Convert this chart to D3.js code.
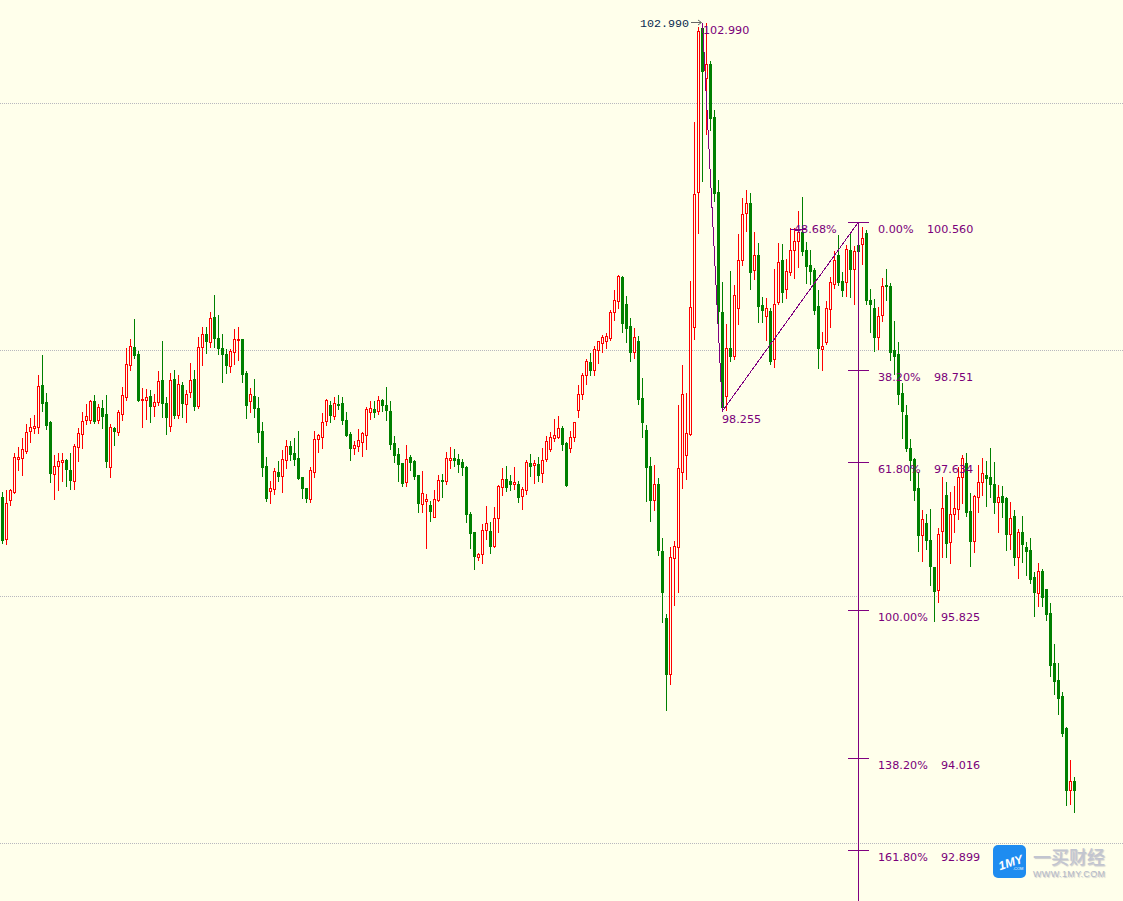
<!DOCTYPE html>
<html><head><meta charset="utf-8">
<script src="https://cdn.jsdelivr.net/npm/d3@7/dist/d3.min.js"></script>
<style>html,body{margin:0;padding:0;background:#FFFFEB;overflow:hidden}svg{display:block}</style>
</head><body><svg id="c" width="1123" height="901"></svg>
<script>
const highs=[
97.27,97.29,97.30,97.74,97.82,97.92,98.10,98.17,98.20,98.69,
98.94,98.47,98.13,97.72,97.74,97.74,97.67,97.74,97.85,98.05,
98.24,98.34,98.39,98.45,98.34,98.39,98.45,98.10,98.06,98.27,
98.55,99.02,99.13,99.38,98.99,98.53,98.52,98.51,98.46,98.74,
99.11,98.43,98.72,98.75,98.69,98.61,98.51,98.84,98.75,99.16,
99.28,99.28,99.46,99.67,99.43,99.19,99.01,99.01,99.25,99.28,
99.13,98.74,98.53,98.64,98.43,98.12,97.69,97.40,97.56,97.64,
97.78,97.90,97.89,97.92,98.01,97.45,97.31,97.57,98.01,97.97,
98.23,98.40,98.38,98.43,98.45,98.43,98.24,98.00,97.89,98.03,
98.00,98.30,98.38,98.38,98.44,98.40,98.55,98.38,97.95,97.80,
97.62,97.84,97.72,97.66,97.47,97.52,97.24,97.16,97.29,97.47,
97.49,97.75,97.82,97.79,97.73,97.67,97.58,97.02,96.78,96.52,
96.88,97.09,96.90,97.08,97.35,97.56,97.58,97.47,97.57,97.40,
97.33,97.66,97.73,97.66,97.69,97.80,97.95,98.00,98.16,98.19,
98.07,97.88,98.01,98.12,98.57,98.72,98.89,98.96,99.05,99.11,
99.18,99.21,99.49,99.73,99.91,99.90,99.66,99.39,99.27,99.17,
98.66,98.08,97.69,97.60,97.44,96.70,95.78,96.59,96.67,98.33,
98.82,98.47,99.84,101.78,102.94,102.99,102.99,102.52,101.93,101.07,
99.83,99.32,99.96,99.79,100.41,100.85,100.95,100.91,100.44,100.30,
99.65,99.63,99.51,99.99,100.30,100.29,100.11,100.49,100.49,100.69,
100.86,100.32,100.22,100.00,99.73,99.22,99.60,99.89,100.21,100.40,
99.95,100.28,100.44,100.27,100.34,100.50,100.46,99.74,99.62,99.52,
99.88,99.99,99.82,99.35,99.10,98.60,98.33,97.91,97.68,97.51,
97.05,97.00,97.06,96.35,96.83,97.45,97.39,97.27,97.34,97.57,
97.72,97.74,97.25,97.23,97.60,97.68,97.64,97.80,97.63,97.35,
97.34,97.20,97.14,97.05,96.81,96.97,96.66,96.70,96.29,96.40,
96.33,96.08,95.91,95.41,95.18,94.83,94.40,94.00,93.79];
const bodyTops=[
97.20,97.13,97.29,97.69,97.69,97.79,98.00,98.06,98.07,98.56,
98.57,98.36,98.12,97.58,97.64,97.66,97.66,97.53,97.83,97.99,
98.13,98.19,98.38,98.38,98.30,98.29,98.22,98.06,98.05,98.24,
98.45,98.83,99.05,99.03,98.95,98.40,98.43,98.44,98.36,98.62,
98.63,98.35,98.63,98.64,98.58,98.57,98.46,98.63,98.64,99.03,
99.19,99.19,99.39,99.40,99.14,99.02,98.95,98.99,99.13,99.13,
99.13,98.72,98.46,98.44,98.29,98.01,97.58,97.31,97.52,97.51,
97.67,97.83,97.83,97.74,97.68,97.45,97.31,97.53,97.91,97.96,
98.12,98.39,98.33,98.35,98.34,98.35,98.14,97.97,97.84,97.90,
97.99,98.28,98.29,98.28,98.39,98.39,98.33,98.25,97.86,97.73,
97.62,97.67,97.69,97.64,97.47,97.25,97.18,97.11,97.18,97.41,
97.41,97.68,97.68,97.68,97.67,97.63,97.57,97.00,96.78,96.51,
96.80,96.89,96.79,96.95,97.34,97.42,97.42,97.40,97.39,97.36,
97.30,97.63,97.62,97.62,97.61,97.66,97.89,97.94,97.96,98.05,
98.05,97.86,97.94,98.12,98.46,98.69,98.86,98.85,99.01,99.11,
99.16,99.17,99.46,99.61,99.90,99.89,99.56,99.29,99.16,99.11,
98.41,98.02,97.58,97.36,97.36,96.55,95.73,96.47,96.61,97.56,
98.46,97.99,99.52,100.90,102.89,102.93,102.49,102.49,101.84,100.93,
99.46,99.02,99.02,99.67,100.10,100.66,100.79,100.79,100.16,100.16,
99.55,99.51,99.47,99.56,100.07,100.10,99.96,100.22,100.33,100.44,
100.44,100.22,100.04,99.97,99.53,99.05,99.51,99.83,100.10,100.16,
99.84,100.23,100.22,100.21,100.28,100.37,100.43,99.61,99.51,99.41,
99.78,99.79,99.78,99.00,98.95,98.47,98.20,97.80,97.67,97.31,
96.94,96.89,96.68,96.35,96.75,97.07,97.23,97.00,97.07,97.45,
97.68,97.62,97.03,97.22,97.39,97.50,97.47,97.45,97.36,97.20,
97.22,97.19,96.95,96.97,96.78,96.78,96.59,96.56,96.23,96.30,
96.30,96.08,95.79,95.18,94.97,94.78,94.39,93.74,93.74];
const bodyBottoms=[
96.68,96.69,97.17,97.27,97.67,97.68,97.77,98.01,98.05,98.06,
98.35,98.08,97.50,97.49,97.58,97.63,97.55,97.41,97.40,97.82,
97.97,98.14,98.14,98.13,98.14,98.19,97.64,97.57,98.01,98.00,
98.22,98.43,98.81,98.94,98.39,98.39,98.39,98.32,98.32,98.36,
98.35,98.18,98.07,98.20,98.20,98.35,98.34,98.49,98.32,98.32,
99.03,99.11,99.10,99.14,99.02,98.95,98.81,98.80,98.97,99.12,
98.70,98.33,98.38,98.29,98.00,97.57,97.19,97.28,97.30,97.46,
97.46,97.66,97.73,97.67,97.44,97.31,97.19,97.18,97.51,97.91,
97.94,98.13,98.20,98.19,98.33,98.14,97.96,97.80,97.80,97.83,
97.88,97.96,98.24,98.24,98.25,98.33,98.27,97.85,97.72,97.61,
97.38,97.39,97.63,97.46,97.13,97.12,97.16,97.03,96.96,97.17,
97.40,97.40,97.66,97.66,97.61,97.57,97.00,96.77,96.49,96.47,
96.51,96.80,96.61,96.61,96.95,97.33,97.33,97.36,97.36,97.20,
97.22,97.29,97.58,97.60,97.47,97.50,97.67,97.79,97.92,97.94,
97.85,97.35,97.80,97.94,98.27,98.46,98.69,98.75,98.75,99.00,
99.08,99.11,99.14,99.46,99.60,99.33,99.27,98.97,98.97,98.40,
98.12,97.57,97.17,97.17,96.56,96.05,95.05,95.05,96.46,96.59,
97.51,97.72,97.97,99.28,100.93,102.40,102.32,101.83,100.91,99.47,
98.30,98.44,98.92,98.92,99.51,100.10,100.67,99.95,99.97,99.53,
99.49,99.41,98.86,98.89,99.58,99.71,99.74,99.95,100.22,100.33,
100.21,100.02,99.96,99.49,99.02,99.01,99.10,99.50,99.80,99.83,
99.73,99.83,99.99,99.99,100.21,100.29,99.61,99.56,99.16,99.16,
99.43,99.78,98.97,98.92,98.46,98.25,97.80,97.66,97.29,96.74,
96.74,96.68,96.36,96.06,96.07,96.79,96.64,96.66,97.00,97.06,
97.45,97.02,96.67,96.67,97.20,97.39,97.44,97.36,97.14,97.14,
97.14,96.75,96.75,96.47,96.47,96.63,96.55,96.20,96.05,96.03,
95.98,95.78,95.16,94.96,94.75,94.33,93.63,93.63,93.63];
const lows=[
96.64,96.63,97.11,97.25,97.53,97.47,97.74,97.88,97.99,97.99,
98.25,98.03,97.39,97.18,97.29,97.40,97.34,97.30,97.30,97.64,
97.80,98.10,98.11,98.11,98.11,98.05,97.57,97.45,97.84,97.96,
98.14,98.39,98.75,98.90,98.38,98.06,98.16,98.12,98.19,98.33,
98.18,97.97,98.01,98.17,98.17,98.18,98.12,98.43,98.27,98.29,
98.81,98.96,99.03,99.03,98.95,98.61,98.72,98.73,98.83,98.88,
98.61,98.17,98.24,98.18,97.88,97.46,97.16,97.13,97.24,97.40,
97.27,97.56,97.66,97.60,97.42,97.19,97.14,97.14,97.45,97.75,
97.80,98.08,98.12,98.16,98.28,98.10,97.95,97.66,97.73,97.77,
97.70,97.79,98.16,98.18,98.22,98.25,98.14,97.79,97.63,97.40,
97.34,97.34,97.53,97.42,97.02,97.02,96.58,96.91,96.96,97.16,
97.20,97.36,97.56,97.58,97.51,97.47,96.90,96.58,96.33,96.44,
96.40,96.69,96.52,96.59,96.78,97.23,97.28,97.29,97.30,97.14,
97.06,97.24,97.46,97.38,97.40,97.39,97.64,97.77,97.89,97.92,
97.78,97.34,97.75,97.89,98.18,98.40,98.58,98.69,98.69,98.84,
98.97,99.02,99.12,99.36,99.51,99.22,99.10,98.86,98.90,98.34,
97.94,97.16,96.91,97.05,96.50,95.68,94.61,94.92,95.89,96.05,
97.31,97.42,97.96,99.13,100.43,101.06,101.63,101.68,100.82,99.33,
98.25,98.27,98.86,98.89,99.32,100.04,100.45,99.74,99.86,99.34,
99.34,99.12,98.83,98.79,99.56,99.58,99.63,99.91,99.88,100.01,
100.16,99.82,99.80,99.44,98.78,98.75,99.07,99.28,99.75,99.79,
99.66,99.66,99.65,99.56,100.15,100.05,99.56,99.22,98.99,99.01,
99.35,99.61,98.88,98.70,98.34,97.92,97.77,97.41,97.17,96.55,
96.43,96.57,96.13,95.69,95.92,96.47,96.47,96.40,96.78,96.94,
97.13,96.97,96.36,96.53,97.02,97.23,97.09,97.20,97.01,96.78,
96.96,96.56,96.57,96.38,96.22,96.41,96.25,96.16,95.75,95.88,
95.88,95.70,95.02,94.80,94.56,94.29,93.45,93.46,93.36];
const directions=("0111111111"+"0001110011"+"1110100101"+"1110011011"+"0010101101"+
"1010000111"+"0010000110"+"1100000111"+"1101000011"+"1110100000"+
"0100011011"+"0110000001"+"1101110010"+"1101011111"+"0011111011"+
"1111100010"+"0001000111"+"1111101000"+"0101111010"+"0101101111"+
"0000011110"+"0101010001"+"1000000000"+"1000110111"+"1001110001"+
"0010100001"+"000000010").split("").map(Number);

const gridLevels=[102.01,99.00,96.00,92.98];
const fibPercents=["0.00%","38.20%","61.80%","100.00%","138.20%","161.80%"];
const fibValues=["100.560","98.751","97.634","95.825","94.016","92.899"];
const swingHigh=102.990, swingLow=98.255, retrace=100.560, retraceLabel="48.68%";
const swingHighIndex=175, swingLowIndex=180, retraceIndex=214;

const BG="#FFFFEB",RED="#FF0000",GREEN="#008000",PURPLE="#800080";
const svg=d3.select("#c");
const x=d3.scaleLinear().domain([0,268]).range([2,1074]);
const y=d3.scaleLinear().domain([100.56,92.899]).range([222,850]);
const ry=v=>Math.round(y(v));
const candles=d3.range(highs.length).map(i=>({i,h:highs[i],l:lows[i],t:bodyTops[i],b:bodyBottoms[i],up:directions[i]===1}));

svg.append("rect").attr("width",1123).attr("height",901).attr("fill",BG);

svg.append("g").selectAll("line").data(gridLevels).join("line")
 .attr("x1",0).attr("x2",1123).attr("y1",d=>ry(d)+.5).attr("y2",d=>ry(d)+.5)
 .attr("stroke","#B8B8BE").attr("stroke-dasharray","1 1").attr("shape-rendering","crispEdges");

const g=svg.append("g").attr("shape-rendering","crispEdges");
g.selectAll("rect.w").data(candles).join("rect").attr("class","w")
 .attr("x",d=>x(d.i)).attr("width",1)
 .attr("y",d=>ry(d.h)).attr("height",d=>ry(d.l)-ry(d.h)+1)
 .attr("fill",d=>d.up?RED:GREEN);
g.selectAll("rect.b").data(candles).join("rect").attr("class","b")
 .attr("x",d=>d.up?x(d.i)-.5:x(d.i)-1)
 .attr("width",d=>d.up?2:3)
 .attr("y",d=>d.up?ry(d.t)+.5:ry(d.t))
 .attr("height",d=>d.up?Math.max(ry(d.b)-ry(d.t),1):ry(d.b)-ry(d.t)+1)
 .attr("fill",d=>d.up?BG:GREEN)
 .attr("stroke",d=>d.up?RED:"none");

/* fibonacci tool */
const o=svg.append("g").attr("shape-rendering","crispEdges").attr("stroke",PURPLE).attr("fill","none");
const fx=x(retraceIndex)+.5;
o.append("line").attr("x1",fx).attr("x2",fx).attr("y1",ry(retrace)).attr("y2",901);
o.selectAll("line.t").data(fibValues).join("line").attr("class","t")
 .attr("x1",fx-10.5).attr("x2",fx+10).attr("y1",d=>ry(+d)+.5).attr("y2",d=>ry(+d)+.5);
const pl=d3.line().x(d=>x(d[0])+.5).y(d=>y(d[1]));
o.append("path").attr("d",pl([[swingHighIndex,swingHigh],[swingLowIndex,swingLow],[retraceIndex,retrace]]));
o.append("line").attr("x1",x(197)).attr("x2",x(201)).attr("y1",ry(100.47)+.5).attr("y2",ry(100.47)+.5);

const t=svg.append("g").attr("font-family","'DejaVu Sans',sans-serif").attr("font-size",11.2).attr("fill","#7A007A");
t.selectAll("text.p").data(fibPercents).join("text").attr("class","p")
 .attr("x",878).attr("y",(d,i)=>ry(+fibValues[i])+11).text(d=>d);
t.selectAll("text.v").data(fibValues).join("text").attr("class","v")
 .attr("x",(d,i)=>[927,934,934,941,941,941][i]).attr("y",d=>ry(+d)+11).text(d=>d);
t.append("text").attr("x",703).attr("y",34).text(swingHigh.toFixed(3));
t.append("text").attr("x",722).attr("y",423).text(swingLow.toFixed(3));
t.append("text").attr("x",794).attr("y",233).text(retraceLabel);

/* high marker */
svg.append("text").attr("x",640).attr("y",27).attr("font-family","'Liberation Mono',monospace").attr("font-size",11.7).attr("fill","#0A2A50").text(swingHigh.toFixed(3));
svg.append("path").attr("d","M691 22.5H701M698 20L701.5 22.5L698 25").attr("stroke","#666").attr("fill","none");

/* watermark */
const w=svg.append("g");
w.append("rect").attr("x",993).attr("y",845).attr("width",33).attr("height",33).attr("rx",5).attr("fill","#1E8CF0");
w.append("text").attr("x",998).attr("y",867).attr("font-family","'Liberation Sans'").attr("font-style","italic").attr("font-weight",700).attr("font-size",12).attr("fill","#fff").attr("transform","rotate(-18 1009 862)").text("1MY");
w.append("text").attr("x",1013).attr("y",870).attr("font-family","'Liberation Sans'").attr("font-size",4).attr("fill","#fff").text(".COM");
w.append("text").attr("x",1033).attr("y",863.5).attr("font-family","'Noto Sans CJK SC'").attr("font-weight",500).attr("font-size",18).attr("fill","#C2C5D0").attr("style","text-shadow:1px 1px 1px #ccc").text("一买财经");
w.append("text").attr("x",1033).attr("y",877).attr("font-family","'Liberation Sans'").attr("font-size",9).attr("textLength",72).attr("fill","#B4B8C6").attr("style","text-shadow:1px 1px 1px #ccc").text("WWW.1MY.COM");
</script></body></html>
